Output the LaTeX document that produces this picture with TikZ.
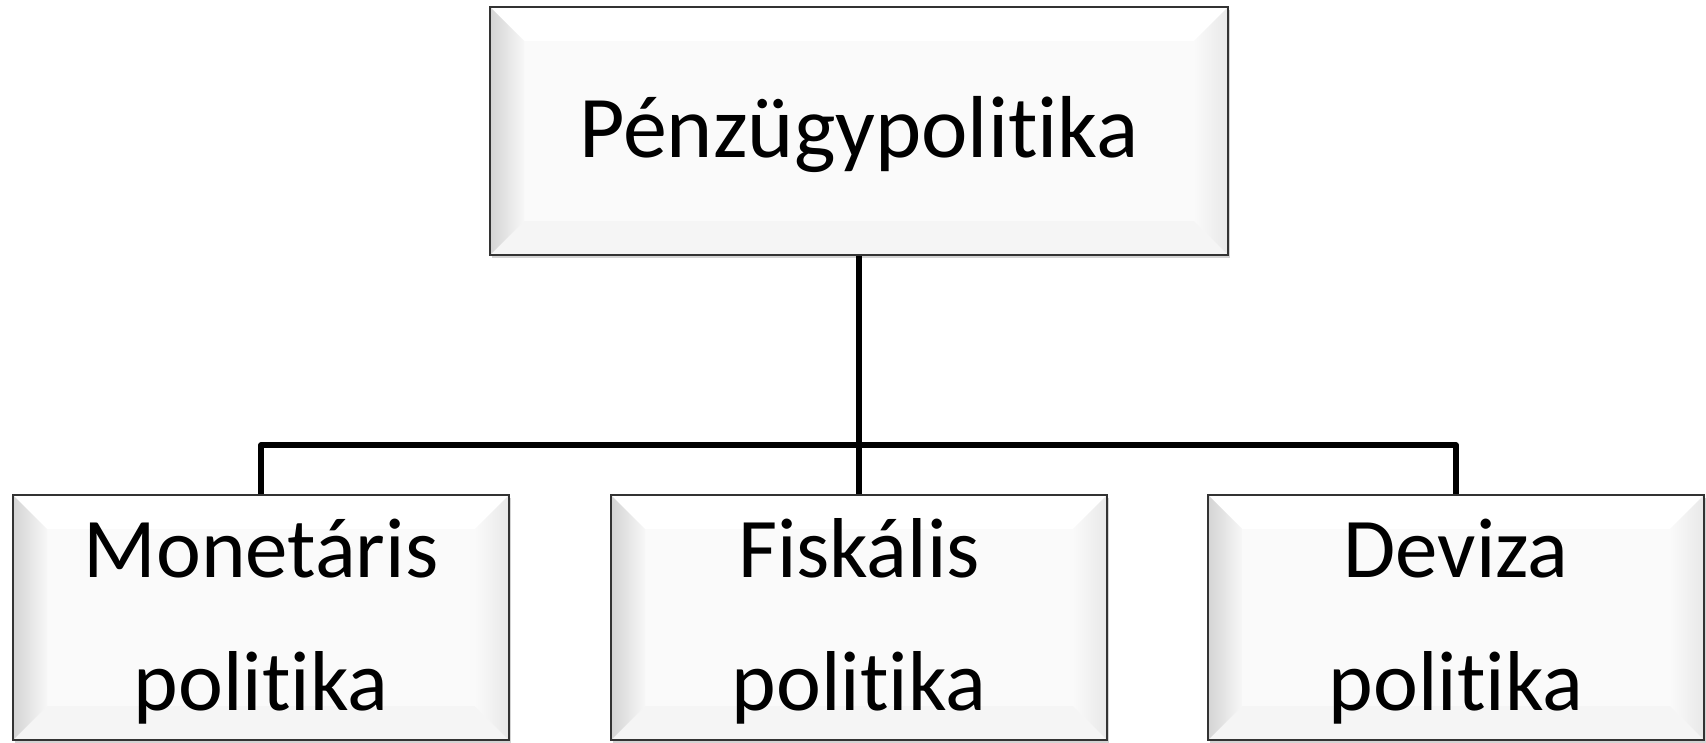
\documentclass[tikz,border=0pt]{standalone}
\usepackage{fontspec}
\setmainfont{Carlito}[Ligatures=NoCommon]
\usetikzlibrary{shadows}

\tikzset{
  bevelbox/.style={
    draw=black!80, line width=2.2pt, inner sep=0pt,
    fill=black!2,
    drop shadow={opacity=0.35, shadow xshift=2pt, shadow yshift=-3pt},
    path picture={
      \def\bev{34pt}
      \coordinate (sw) at (path picture bounding box.south west);
      \coordinate (ne) at (path picture bounding box.north east);
      \coordinate (nw) at (path picture bounding box.north west);
      \coordinate (se) at (path picture bounding box.south east);
      % top bevel
      \fill[white] (nw) -- (ne) -- ([xshift=-\bev,yshift=-\bev]ne) -- ([xshift=\bev,yshift=-\bev]nw) -- cycle;
      % bottom bevel
      \fill[black!4] (sw) -- (se) -- ([xshift=-\bev,yshift=\bev]se) -- ([xshift=\bev,yshift=\bev]sw) -- cycle;
      % left bevel
      \shade[left color=black!17, right color=black!3]
        (sw) -- (nw) -- ([xshift=\bev,yshift=-\bev]nw) -- ([xshift=\bev,yshift=\bev]sw) -- cycle;
      % right bevel
      \shade[left color=black!2, right color=black!9]
        (se) -- (ne) -- ([xshift=-\bev,yshift=-\bev]ne) -- ([xshift=-\bev,yshift=\bev]se) -- cycle;
    }
  },
  topbox/.style={bevelbox, minimum width=738pt, minimum height=248pt,
    font=\fontsize{88}{106}\selectfont, text height=70pt, text depth=18pt},
  subbox/.style={bevelbox, minimum width=496pt, minimum height=245pt,
    font=\fontsize{85}{133}\selectfont, align=center, text height=200pt, text depth=15pt},
  link/.style={line width=5.5pt, black, line join=round}
}

\begin{document}
\begin{tikzpicture}[x=1pt, y=-1pt]
  \useasboundingbox (0,0) rectangle (1706,742);

  \node[topbox] (top) at (859,131) {Pénzügypolitika};

  \node[subbox] (mon) at (261,617.5) {Monetáris\\politika};
  \node[subbox] (fis) at (859,617.5) {Fiskális\\politika};
  \node[subbox] (dev) at (1456,617.5) {Deviza\\politika};

  \coordinate (bus) at (859,445);

  \draw[link] (top.south) -- (bus);
  \draw[link] (mon.north) |- (bus);
  \draw[link] (dev.north) |- (bus);
  \draw[link] (fis.north) -- (bus);
\end{tikzpicture}
\end{document}
